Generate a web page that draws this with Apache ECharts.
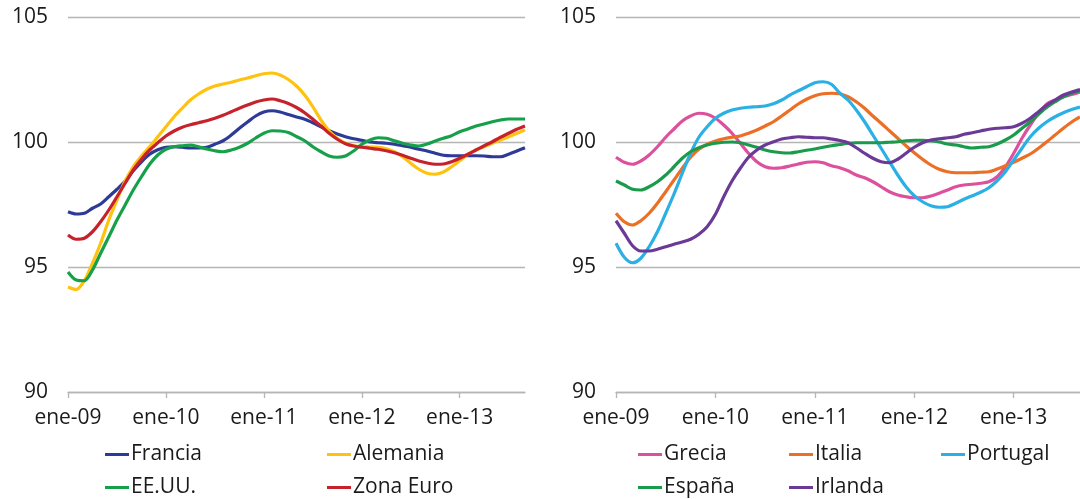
<!DOCTYPE html>
<html>
<head>
<meta charset="utf-8">
<script src="https://cdn.jsdelivr.net/npm/echarts@6/dist/echarts.min.js"></script>
<style>
html,body{margin:0;padding:0;background:#fff;}
#chart{width:1080px;height:499px;}
</style>
</head>
<body>
<div id="chart"></div>
<script>
// ---- data ----
const monthNames = ['ene','feb','mar','abr','may','jun','jul','ago','sep','oct','nov','dic'];
const years = ['09','10','11','12','13'];
const nMonths = 57; // ene-09 .. sep-13
const yTicks = [90, 95, 100, 105];

const francia = [97.21,97.12,97.15,97.35,97.52,97.81,98.11,98.44,98.85,99.21,
  99.51,99.69,99.79,99.81,99.79,99.76,99.76,99.79,99.91,100.05,
  100.28,100.55,100.8,101.04,101.2,101.25,101.2,101.1,101.0,100.91,
  100.77,100.61,100.45,100.32,100.21,100.13,100.07,100.0,99.97,99.95,
  99.91,99.85,99.79,99.71,99.64,99.55,99.47,99.45,99.45,99.45,
  99.45,99.44,99.41,99.41,99.51,99.64,99.77];
const alemania = [94.2,94.1,94.45,95.15,95.95,96.88,97.68,98.44,99.01,99.44,
  99.81,100.21,100.61,101.01,101.35,101.68,101.92,102.11,102.24,102.32,
  102.39,102.48,102.56,102.65,102.73,102.76,102.68,102.5,102.24,101.88,
  101.41,100.88,100.44,100.15,99.95,99.85,99.81,99.8,99.79,99.73,
  99.61,99.41,99.15,98.91,98.75,98.71,98.8,99.01,99.25,99.51,
  99.68,99.81,99.95,100.08,100.21,100.35,100.48];
const eeuu = [94.8,94.48,94.45,94.88,95.55,96.21,96.88,97.48,98.08,98.61,
  99.11,99.48,99.71,99.81,99.85,99.88,99.81,99.72,99.65,99.61,
  99.68,99.79,99.95,100.16,100.35,100.45,100.44,100.38,100.22,100.05,
  99.81,99.61,99.44,99.39,99.44,99.64,99.91,100.08,100.17,100.15,
  100.05,99.95,99.88,99.84,99.92,100.04,100.15,100.25,100.41,100.52,
  100.64,100.72,100.81,100.88,100.92,100.92,100.92];
const zonaEuro = [96.28,96.11,96.15,96.41,96.81,97.28,97.81,98.35,98.88,99.31,
  99.68,99.97,100.24,100.44,100.59,100.69,100.77,100.85,100.95,101.07,
  101.21,101.35,101.48,101.6,101.68,101.72,101.65,101.54,101.38,101.17,
  100.91,100.64,100.35,100.11,99.93,99.84,99.79,99.75,99.71,99.65,
  99.57,99.47,99.35,99.24,99.16,99.11,99.12,99.21,99.35,99.51,
  99.68,99.85,100.01,100.19,100.35,100.51,100.64];

const grecia = [99.39,99.19,99.11,99.24,99.48,99.81,100.19,100.52,100.84,101.04,
  101.15,101.11,100.95,100.68,100.35,99.95,99.55,99.21,99.01,98.95,
  98.97,99.04,99.12,99.19,99.21,99.17,99.05,98.97,98.85,98.68,
  98.57,98.41,98.21,98.01,97.88,97.81,97.77,97.77,97.84,97.95,
  98.08,98.21,98.28,98.31,98.35,98.41,98.61,99.01,99.55,100.15,
  100.68,101.15,101.52,101.68,101.81,101.9,102.0];
const italia = [97.15,96.81,96.68,96.85,97.15,97.55,98.01,98.48,98.95,99.39,
  99.71,99.91,100.04,100.13,100.19,100.24,100.35,100.48,100.64,100.81,
  101.04,101.28,101.52,101.71,101.85,101.93,101.95,101.93,101.81,101.61,
  101.35,101.04,100.75,100.45,100.15,99.85,99.57,99.31,99.08,98.91,
  98.81,98.77,98.77,98.77,98.79,98.81,98.92,99.05,99.19,99.35,
  99.52,99.75,100.01,100.28,100.55,100.8,101.0];
const portugal = [95.95,95.39,95.17,95.35,95.81,96.41,97.15,97.92,98.75,99.55,
  100.19,100.61,100.95,101.15,101.28,101.35,101.39,101.41,101.44,101.53,
  101.68,101.88,102.05,102.21,102.37,102.41,102.31,101.96,101.68,101.28,
  100.81,100.28,99.75,99.21,98.68,98.21,97.85,97.61,97.45,97.39,
  97.41,97.55,97.71,97.85,97.99,98.17,98.45,98.81,99.28,99.75,
  100.21,100.55,100.81,101.01,101.17,101.3,101.4];
const espana = [98.44,98.28,98.11,98.08,98.21,98.41,98.68,99.01,99.35,99.61,
  99.77,99.88,99.95,99.99,100.0,99.97,99.88,99.79,99.68,99.61,
  99.57,99.56,99.61,99.67,99.72,99.79,99.85,99.9,99.95,99.97,
  99.97,99.97,99.97,99.99,100.01,100.05,100.07,100.07,100.05,100.0,
  99.92,99.88,99.81,99.76,99.79,99.81,99.92,100.08,100.28,100.55,
  100.81,101.11,101.39,101.61,101.81,101.95,102.05];
const irlanda = [96.85,96.35,95.85,95.64,95.64,95.71,95.81,95.91,96.0,96.11,
  96.31,96.61,97.11,97.81,98.44,98.95,99.39,99.68,99.88,100.01,
  100.12,100.17,100.21,100.19,100.17,100.17,100.12,100.06,99.97,99.77,
  99.55,99.35,99.21,99.17,99.31,99.55,99.79,99.97,100.08,100.13,
  100.17,100.21,100.31,100.37,100.44,100.51,100.55,100.57,100.61,100.75,
  100.95,101.21,101.48,101.68,101.88,102.0,102.1];

// ---- build categories ----
const categories = [];
for (let i = 0; i < nMonths; i++) {
  categories.push(monthNames[i % 12] + '-' + years[Math.floor(i / 12)]);
}

const FONT = 'Open Sans';
const TXT = '#1a1a1a';
const GRID_C = '#b5b5b5';

function xAxis(gridIndex) {
  return {
    type: 'category', gridIndex, data: categories, boundaryGap: false,
    axisLine: {show: true, lineStyle: {color: GRID_C, width: 1.3}},
    axisTick: {show: true, interval: 11, length: 6, lineStyle: {color: GRID_C, width: 1.3}},
    axisLabel: {interval: 11, color: TXT, fontFamily: FONT, fontSize: 21, margin: 16},
    splitLine: {show: false}
  };
}
function yAxis(gridIndex) {
  return {
    type: 'value', gridIndex, min: yTicks[0], max: yTicks[yTicks.length - 1], interval: 5,
    axisLine: {show: false}, axisTick: {show: false},
    axisLabel: {color: TXT, fontFamily: FONT, fontSize: 21, margin: 20},
    splitLine: {show: true, lineStyle: {color: GRID_C, width: 1.3}}
  };
}

const seriesDefs = [
  {name: 'Francia', data: francia, color: '#2E3A97', g: 0},
  {name: 'Alemania', data: alemania, color: '#FFC20E', g: 0},
  {name: 'EE.UU.', data: eeuu, color: '#17A04A', g: 0},
  {name: 'Zona Euro', data: zonaEuro, color: '#C7212B', g: 0},
  {name: 'Grecia', data: grecia, color: '#DD509D', g: 1},
  {name: 'Italia', data: italia, color: '#EC6F26', g: 1},
  {name: 'Portugal', data: portugal, color: '#2AB0E5', g: 1},
  {name: 'España', data: espana, color: '#1A9B4B', g: 1},
  {name: 'Irlanda', data: irlanda, color: '#6B3A96', g: 1}
];

const legendPos = {
  'Francia': [105, 0], 'Alemania': [327, 0], 'EE.UU.': [105, 1], 'Zona Euro': [327, 1],
  'Grecia': [638, 0], 'Italia': [789, 0], 'Portugal': [941, 0], 'España': [638, 1], 'Irlanda': [789, 1]
};
const rowTop = [444, 477];

const legends = seriesDefs.map(s => ({
  data: [s.name],
  left: legendPos[s.name][0],
  top: rowTop[legendPos[s.name][1]],
  padding: 0,
  icon: 'rect',
  itemWidth: 24,
  itemHeight: 3,
  textStyle: {color: TXT, fontFamily: FONT, fontSize: 21, padding: [0, 0, 0, -3]},
  selectedMode: false
}));

const option = {
  animation: false,
  backgroundColor: '#fff',
  grid: [
    {left: 68, top: 17, width: 457, height: 375, containLabel: false},
    {left: 616, top: 17, width: 474, height: 375, containLabel: false}
  ],
  xAxis: [xAxis(0), xAxis(1)],
  yAxis: [yAxis(0), yAxis(1)],
  legend: legends,
  series: seriesDefs.map(s => ({
    name: s.name, type: 'line', data: s.data,
    xAxisIndex: s.g, yAxisIndex: s.g,
    showSymbol: false, symbol: 'none', smooth: 0.3,
    lineStyle: {color: s.color, width: 3.2},
    itemStyle: {color: s.color}
  }))
};

const chart = echarts.init(document.getElementById('chart'), null, {renderer: 'canvas'});
chart.setOption(option);
</script>
</body>
</html>
